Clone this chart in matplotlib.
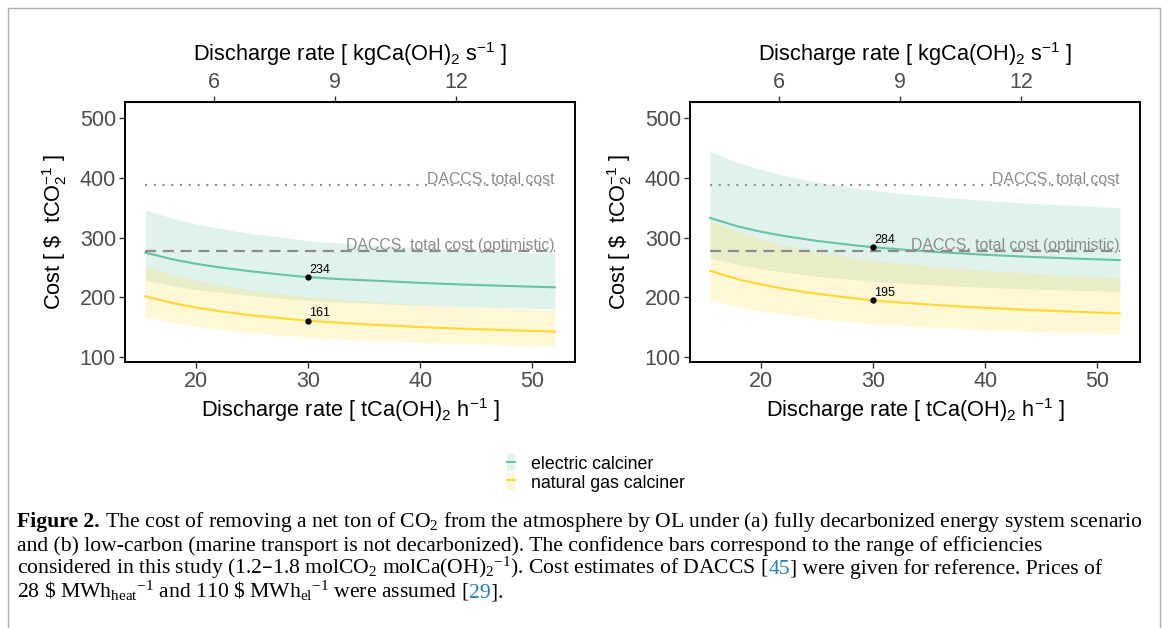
import matplotlib
matplotlib.use("Agg")
import matplotlib.pyplot as plt
from matplotlib.lines import Line2D
from matplotlib.patches import Patch

plt.rcParams['font.family'] = ['Liberation Sans', 'DejaVu Sans']

# discharge rate, t Ca(OH)2 per hour
rate = [15.5, 18, 20, 22, 25, 28, 30, 33, 36, 40, 44, 48, 52]

# (a) fully decarbonized energy system
a_el = [275.0, 263.5, 256.4, 250.6, 243.6, 237.5, 234.0, 230.5, 228.0, 224.4, 221.5, 219.1, 217.0]
a_el_hi = [346.5, 332.0, 323.0, 316.0, 307.0, 300.0, 295.0, 291.0, 287.0, 283.0, 279.0, 276.0, 273.5]
a_el_lo = [229.0, 219.5, 213.5, 209.0, 203.0, 198.0, 195.0, 192.0, 190.0, 187.0, 184.5, 182.5, 181.0]
a_gas = [202.0, 190.4, 183.1, 177.2, 170.1, 164.5, 161.0, 157.5, 154.2, 150.6, 147.6, 145.1, 143.0]
a_gas_hi = [252.5, 238.0, 229.0, 221.5, 212.5, 205.5, 201.0, 197.0, 193.0, 188.0, 184.5, 181.5, 179.0]
a_gas_lo = [167.5, 158.0, 152.0, 147.0, 141.0, 136.5, 133.5, 130.5, 128.0, 125.0, 122.5, 120.5, 118.5]

# (b) low-carbon, marine transport not decarbonized
b_el = [333.0, 318.7, 310.1, 303.1, 294.6, 288.0, 284.0, 279.6, 275.7, 271.4, 267.9, 265.0, 262.5]
b_el_hi = [444.5, 425.5, 414.0, 404.5, 393.0, 384.5, 379.0, 373.0, 368.0, 362.5, 357.5, 354.0, 350.5]
b_el_lo = [266.0, 255.0, 248.0, 242.5, 235.5, 230.5, 227.0, 223.5, 220.5, 217.0, 214.5, 212.0, 210.0]
b_gas = [244.5, 230.5, 221.8, 214.7, 206.1, 199.4, 195.0, 190.9, 186.9, 182.6, 179.0, 176.1, 173.5]
b_gas_hi = [328.6, 310.0, 298.0, 288.5, 277.0, 268.0, 262.0, 256.5, 251.0, 245.5, 240.5, 236.5, 233.0]
b_gas_lo = [195.5, 184.5, 177.5, 172.0, 165.0, 159.5, 156.0, 152.5, 149.5, 146.0, 143.0, 141.0, 139.0]

daccs_total = 388
daccs_opt = 278
ref_rate = 30

green = '#66C2A5'
yellow = '#FFD92F'
grey_ref = '#8C8C8C'

fig = plt.figure(figsize=(11.68, 6.28), dpi=100)
W, H = 1168, 628


def panel(left, el, el_lo, el_hi, gas, gas_lo, gas_hi):
    ax = fig.add_axes([left / W, 1 - 362 / H, 450 / W, 260 / H])
    ax.fill_between(rate, el_lo, el_hi, color=green, alpha=0.2, lw=0)
    ax.fill_between(rate, gas_lo, gas_hi, color=yellow, alpha=0.2, lw=0)
    ax.plot(rate, el, color=green, lw=1.5)
    ax.plot(rate, gas, color=yellow, lw=1.5)

    ax.plot([rate[0], rate[-1]], [daccs_total] * 2, color=grey_ref, lw=1.5, ls=(0, (1, 3.2)))
    ax.plot([rate[0], rate[-1]], [daccs_opt] * 2, color=grey_ref, lw=1.6, ls=(0, (5, 3)))
    ax.text(rate[-1], daccs_total + 1, 'DACCS, total cost', color=grey_ref, fontsize=11.4,
            ha='right', va='baseline')
    ax.text(rate[-1], daccs_opt + 1, 'DACCS, total cost (optimistic)', color=grey_ref,
            fontsize=11.4, ha='right', va='baseline')

    i = rate.index(ref_rate)
    for ys in (el, gas):
        ax.plot(ref_rate, ys[i], 'o', color='black', ms=3.5)
        ax.annotate(f'{ys[i]:.0f}', (ref_rate, ys[i]), xytext=(1, 1), textcoords='offset points',
                    fontsize=9, ha='left', va='bottom')

    ax.set_xlim(13.7, 53.8)
    ax.set_ylim(92, 527)
    ax.set_xticks([20, 30, 40, 50])
    ax.set_yticks([100, 200, 300, 400, 500])
    ax.tick_params(labelsize=15.5, labelcolor='#4D4D4D', color='#333333', length=4, width=1, pad=2.5)
    for s in ax.spines.values():
        s.set_linewidth(1.4)
    ax.set_xlabel(r'Discharge rate [ tCa(OH)$\mathregular{_2}$ h$\mathregular{^{-1}}$ ]', fontsize=15.7, labelpad=3)
    ax.set_ylabel(r'Cost [ \$  tCO$\mathregular{_2^{-1}}$ ]', fontsize=15.7, labelpad=8)

    top = ax.secondary_xaxis('top', functions=(lambda x: x / 3.6, lambda x: x * 3.6))
    top.set_xticks([6, 9, 12])
    top.tick_params(labelsize=15.5, labelcolor='#4D4D4D', color='#333333', length=4, width=1, pad=2.5)
    top.set_xlabel(r'Discharge rate [ kgCa(OH)$\mathregular{_2}$ s$\mathregular{^{-1}}$ ]', fontsize=15.7, labelpad=8)
    return ax


panel(125, a_el, a_el_lo, a_el_hi, a_gas, a_gas_lo, a_gas_hi)
panel(690, b_el, b_el_lo, b_el_hi, b_gas, b_gas_lo, b_gas_hi)

handles = [(Patch(fc=green, alpha=0.2, lw=0), Line2D([], [], color=green, lw=1.5)),
           (Patch(fc=yellow, alpha=0.2, lw=0), Line2D([], [], color=yellow, lw=1.5))]
fig.legend(handles, ['electric calciner', 'natural gas calciner'], loc='center',
           bbox_to_anchor=(596 / W, 1 - 473 / H), frameon=False, fontsize=12.8,
           handlelength=0.5, handleheight=1.1, handletextpad=0.9, labelspacing=0.0)

# frame around the figure
for xs, ys in (([8, 8], [628, 8]), ([8, 1160], [8, 8]), ([1160, 1160], [8, 628])):
    fig.add_artist(Line2D([x / W for x in xs], [1 - y / H for y in ys], color='#B0B0B0', lw=1))

# caption
blue = '#2B7BBA'
cap = [
    [('Figure 2.', 'black', 'bold'),
     (r' The cost of removing a net ton of CO$\mathregular{_2}$ from the atmosphere by OL under (a) fully decarbonized energy system scenario', 'black', 'normal')],
    [('and (b) low-carbon (marine transport is not decarbonized). The confidence bars correspond to the range of efficiencies', 'black', 'normal')],
    [(r'considered in this study (1.2–1.8 molCO$\mathregular{_2}$ molCa(OH)$\mathregular{_2{}^{-1}}$). Cost estimates of DACCS [', 'black', 'normal'),
     ('45', blue, 'normal'),
     ('] were given for reference. Prices of', 'black', 'normal')],
    [(r'28 \$ MWh$\mathregular{_{heat}{}^{-1}}$ and 110 \$ MWh$\mathregular{_{el}{}^{-1}}$ were assumed [', 'black', 'normal'),
     ('29', blue, 'normal'),
     (']. ', 'black', 'normal')],
]
baselines = [527, 550.5, 574, 597.5]
renderer = fig.canvas.get_renderer()
for line, yb in zip(cap, baselines):
    x = 17
    for s, c, w in line:
        t = fig.text(x / W, 1 - yb / H, s, color=c, fontweight=w, fontsize=15.6,
                     family=['Liberation Serif', 'DejaVu Serif'], ha='left', va='baseline')
        x = t.get_window_extent(renderer).x1

fig.savefig('out.png', dpi=100)
